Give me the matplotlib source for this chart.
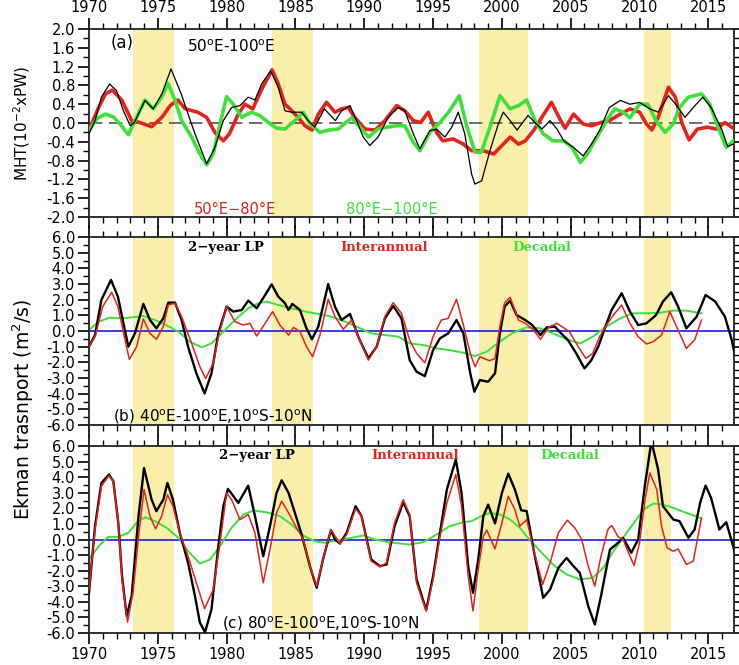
import matplotlib
matplotlib.use("Agg")
import matplotlib.pyplot as plt
from matplotlib.ticker import MultipleLocator

# ---- panel (a): MHT ----
a_blk_x = [1970.0, 1970.44, 1970.9, 1971.5, 1972.0, 1972.5, 1973.0, 1973.3, 1974.07, 1974.67, 1975.3, 1975.96,
           1976.7, 1977.2, 1977.7, 1978.55, 1979.15, 1979.76, 1980.36, 1980.97, 1981.57, 1982.06, 1982.54, 1983.2,
           1983.75, 1984.24, 1984.72, 1985.45, 1985.93, 1986.4, 1987.1, 1987.9, 1988.35, 1988.96, 1989.44, 1989.93,
           1990.4, 1991.0, 1991.74, 1992.47, 1992.95, 1993.56, 1994.04, 1994.77, 1995.25, 1995.86, 1996.35, 1996.83,
           1997.3, 1997.8, 1998.04, 1998.53, 1999.13, 1999.74, 2000.1, 2000.6, 2001.1, 2001.9, 2002.4, 2002.9,
           2003.5, 2004.0, 2004.5, 2005.2, 2005.9, 2006.5, 2007.1, 2007.8, 2008.6, 2009.3, 2010.0, 2010.75, 2011.35,
           2012.1, 2012.7, 2013.3, 2013.9, 2014.6, 2015.2, 2016.0, 2016.4, 2016.8]
a_blk_y = [-0.23, 0.05, 0.55, 0.83, 0.69, 0.26, -0.06, 0.01, 0.48, 0.30, 0.62, 1.15,
           0.62, 0.19, -0.23, -0.87, -0.52, 0.05, 0.33, 0.37, 0.55, 0.49, 0.83, 1.11,
           0.76, 0.26, 0.23, 0.23, 0.05, -0.09, 0.30, 0.05, 0.26, 0.37, 0.05, -0.30,
           -0.48, -0.30, 0.12, 0.33, 0.26, -0.23, -0.55, -0.16, -0.13, -0.30, -0.09, 0.23,
           -0.23, -1.09, -1.30, -1.23, -0.59, -0.02, 0.23, 0.05, -0.15, 0.16, 0.01, -0.13,
           0.05, -0.13, -0.38, -0.52, -0.70, -0.45, -0.16, 0.33, 0.48, 0.40, 0.44, 0.30, 0.23,
           0.58, 0.37, 0.12, 0.33, 0.55, 0.33, -0.16, -0.50, -0.45]

a_red_x = [1970.0, 1970.7, 1971.2, 1971.7, 1972.4, 1973.1, 1973.7, 1974.55, 1975.3, 1975.9, 1976.45, 1977.0,
           1977.9, 1978.55, 1979.15, 1979.76, 1980.2, 1980.85, 1981.33, 1981.9, 1982.5, 1983.3, 1983.75, 1984.24,
           1984.6, 1985.2, 1985.7, 1986.2, 1986.66, 1987.26, 1987.87, 1988.35, 1988.84, 1989.3, 1990.05, 1990.8,
           1991.5, 1992.35, 1992.95, 1993.56, 1994.1, 1994.65, 1995.25, 1995.7, 1996.46, 1997.2, 1997.8, 1998.65,
           1999.4, 2000.0, 2000.6, 2001.2, 2001.7, 2002.3, 2002.9, 2003.6, 2004.2, 2004.6, 2005.2, 2005.9, 2006.5,
           2007.2, 2007.8, 2008.6, 2009.3, 2010.0, 2010.5, 2010.9, 2011.35, 2012.1, 2012.6, 2013.1, 2013.6, 2014.2,
           2014.9, 2015.6, 2016.2, 2016.8]
a_red_y = [-0.16, 0.33, 0.62, 0.70, 0.48, 0.05, 0.01, -0.08, 0.12, 0.37, 0.49, 0.30,
           0.23, 0.12, -0.20, -0.38, -0.23, 0.19, 0.40, 0.30, 0.69, 1.13, 0.83, 0.40,
           0.30, 0.12, -0.06, -0.15, 0.19, 0.44, 0.23, 0.30, 0.33, 0.12, -0.13, -0.15,
           0.05, 0.37, 0.26, 0.05, 0.01, 0.23, -0.20, -0.38, -0.34, -0.45, -0.59, -0.59,
           -0.66, -0.48, -0.30, -0.45, -0.38, -0.16, 0.12, 0.44, 0.09, -0.11, 0.19, -0.02, -0.06,
           0.01, 0.05, 0.19, 0.30, 0.23, -0.02, -0.15, 0.12, 0.76, 0.55, -0.02, -0.36, -0.13,
           -0.09, -0.13, 0.01, -0.11]

a_grn_x = [1970.0, 1970.56, 1971.2, 1971.77, 1972.37, 1972.86, 1973.34, 1974.07, 1974.67, 1975.28, 1975.76,
           1976.25, 1976.73, 1977.46, 1978.06, 1978.55, 1979.03, 1979.52, 1980.0, 1980.48, 1981.1, 1981.8, 1982.4,
           1983.03, 1983.63, 1984.24, 1984.96, 1985.57, 1986.05, 1986.78, 1987.4, 1988.1, 1989.08, 1989.7, 1990.3,
           1991.0, 1991.6, 1992.35, 1992.95, 1993.56, 1994.04, 1994.77, 1995.5, 1996.2, 1996.9, 1997.44, 1998.04,
           1998.5, 1999.13, 1999.86, 2000.6, 2001.2, 2001.8, 2002.4, 2003.0, 2003.7, 2004.5, 2005.1, 2005.7, 2006.2,
           2006.9, 2007.6, 2008.2, 2008.8, 2009.3, 2010.0, 2010.6, 2011.2, 2011.85, 2012.45, 2012.9, 2013.55, 2014.5,
           2015.1, 2015.7, 2016.3, 2016.8]
a_grn_y = [-0.16, 0.09, 0.19, 0.13, -0.06, -0.25, 0.05, 0.49, 0.30, 0.55, 0.84,
           0.48, 0.05, -0.30, -0.66, -0.89, -0.66, -0.02, 0.56, 0.40, 0.12, 0.23, 0.16,
           0.01, -0.11, -0.13, 0.05, 0.23, -0.02, -0.20, -0.15, -0.13, 0.11, -0.09, -0.30,
           -0.13, -0.09, -0.06, -0.06, -0.41, -0.59, -0.20, 0.01, 0.26, 0.58, -0.06, -0.62,
           -0.62, -0.09, 0.58, 0.30, 0.37, 0.49, 0.05, -0.23, -0.38, -0.38, -0.52, -0.84, -0.66,
           -0.30, 0.05, 0.30, 0.23, 0.11, 0.40, 0.40, 0.05, -0.20, -0.02, 0.33, 0.55, 0.62,
           0.40, -0.09, -0.52, -0.38]

# ---- panel (b): 40E-100E ----
b_blk_x = [1970.0, 1970.44, 1970.9, 1971.6, 1972.1, 1972.86, 1973.34, 1973.95, 1974.43, 1974.9, 1975.4, 1975.76,
           1976.25, 1976.73, 1977.2, 1977.8, 1978.4, 1978.9, 1979.4, 1980.0, 1980.48, 1981.1, 1981.57, 1982.18,
           1982.8, 1983.27, 1983.75, 1984.24, 1984.5, 1984.77, 1985.33, 1985.8, 1986.2, 1986.66, 1987.38, 1987.87,
           1988.35, 1988.96, 1989.56, 1990.3, 1990.9, 1991.5, 1992.1, 1992.7, 1993.3, 1993.8, 1994.4, 1995.0,
           1995.5, 1996.1, 1996.7, 1997.2, 1997.7, 1998.0, 1998.4, 1999.0, 1999.5, 1999.85, 2000.2, 2000.6, 2001.06,
           2001.7, 2002.2, 2002.8, 2003.25, 2003.85, 2004.3, 2004.8, 2005.4, 2006.0, 2006.5, 2007.0, 2007.5, 2007.97,
           2008.7, 2009.3, 2009.9, 2010.5, 2011.2, 2011.7, 2012.3, 2012.8, 2013.4, 2014.15, 2014.8, 2015.5, 2016.2,
           2016.7, 2017.0]
b_blk_y = [-1.0, -0.26, 1.98, 3.26, 2.2, -1.0, -0.15, 1.73, 0.70, 0.17, 0.81, 1.81,
           1.81, 0.70, -1.0, -2.7, -3.99, -2.7, -0.15, 1.56, 1.24, 1.34, 1.94, 1.45,
           2.30, 2.98, 2.20, 1.77, 1.34, 1.73, 1.34, 0.17, -0.53, 0.28, 3.0, 1.56,
           0.70, 1.09, -0.36, -1.75, -1.0, 0.81, 1.6, 0.81, -1.86, -2.6, -2.88, -1.22,
           -0.47, -0.15, 0.70, -0.15, -2.7, -3.88, -3.13, -3.24, -2.7, -0.15, 1.56, 1.94, 1.02,
           0.70, 0.38, -0.26, 0.23, 0.28, -0.15, -0.58, -1.43, -2.39, -1.86, -1.0, 0.23, 1.34,
           2.41, 1.24, 0.38, 0.49, 1.02, 1.88, 2.47, 1.56, 0.17, 0.92, 2.30, 1.88, 0.92,
           -0.58, -1.86]

b_red_x = [1970.0, 1970.44, 1971.0, 1971.65, 1972.1, 1972.93, 1973.46, 1973.95, 1974.43, 1974.9, 1975.4, 1975.76,
           1976.25, 1976.73, 1977.46, 1978.06, 1978.47, 1979.03, 1979.4, 1980.0, 1980.6, 1981.2, 1981.7, 1982.18,
           1982.8, 1983.34, 1983.87, 1984.5, 1984.85, 1985.33, 1985.8, 1986.25, 1986.78, 1987.38, 1987.87, 1988.47,
           1989.08, 1989.56, 1990.3, 1990.9, 1991.5, 1992.1, 1992.7, 1993.3, 1993.8, 1994.4, 1995.0, 1995.6, 1996.1,
           1996.7, 1997.2, 1997.7, 1998.05, 1998.4, 1999.1, 1999.5, 1999.85, 2000.2, 2000.6, 2001.2, 2001.7, 2002.3,
           2002.8, 2003.4, 2004.0, 2004.45, 2004.9, 2005.55, 2006.1, 2006.6, 2007.1, 2007.6, 2008.1, 2008.7, 2009.3,
           2009.9, 2010.5, 2011.0, 2011.6, 2012.2, 2012.8, 2013.4, 2014.0, 2014.5]
b_red_y = [-1.0, -0.36, 1.56, 2.47, 1.56, -1.81, -1.0, 0.77, -0.15, -0.53, 0.28, 1.66,
           1.77, 0.92, -0.79, -2.28, -3.03, -2.07, -0.36, 1.56, 0.60, 0.38, 0.49, -0.32,
           0.49, 1.24, 0.38, -0.26, 0.23, -0.04, -1.0, -1.64, -0.26, 2.03, 0.92, 0.11,
           0.70, -0.36, -1.86, -1.0, 0.92, 1.81, 1.13, -0.58, -1.43, -2.03, -0.36, 0.70, 0.81,
           2.03, 0.38, -1.43, -2.28, -1.64, -1.9, -1.75, 0.28, 1.81, 2.15, 0.70, 0.49, 0.06,
           -0.53, 0.23, 0.49, 0.23, -0.04, -1.0, -1.75, -1.43, -0.36, 0.38, 1.02, 1.66, 0.49,
           -0.36, -0.83, -0.68, -0.26, 1.24, 0.06, -1.11, -0.58, 0.70]

b_grn_x = [1970.0, 1970.7, 1971.5, 1972.4, 1973.1, 1973.95, 1974.8, 1975.6, 1976.5, 1977.3, 1978.2, 1978.9,
           1979.76, 1980.6, 1981.57, 1982.3, 1982.9, 1983.75, 1984.7, 1985.7, 1986.66, 1987.6, 1988.6, 1989.56,
           1990.5, 1991.5, 1992.47, 1993.3, 1994.3, 1995.25, 1996.2, 1997.2, 1998.05, 1998.9, 1999.85, 2000.8,
           2001.8, 2002.8, 2003.7, 2004.7, 2005.7, 2006.6, 2007.6, 2008.6, 2009.5, 2010.5, 2011.5, 2012.4, 2013.4,
           2014.5]
b_grn_y = [0.06, 0.60, 0.85, 0.81, 0.87, 0.96, 0.70, 0.38, -0.04, -0.68, -1.04, -0.79,
           -0.04, 0.70, 1.45, 1.77, 1.88, 1.66, 1.45, 1.24, 1.09, 0.92, 0.60, 0.23,
           -0.15, -0.26, -0.36, -0.79, -0.90, -1.11, -1.22, -1.39, -1.6, -1.32, -0.68, -0.11,
           0.23, 0.17, -0.15, -0.53, -0.79, -0.36, 0.28, 0.81, 1.13, 1.13, 1.17, 1.30, 1.30,
           1.13]

# ---- panel (c): 80E-100E ----
c_blk_x = [1970.0, 1970.44, 1970.9, 1971.45, 1971.77, 1972.13, 1972.4, 1972.74, 1973.1, 1973.6, 1974.0, 1974.55,
           1974.9, 1975.4, 1975.7, 1976.1, 1976.6, 1977.2, 1977.7, 1978.06, 1978.43, 1978.9, 1979.4, 1979.76,
           1980.1, 1980.85, 1981.57, 1982.06, 1982.66, 1983.15, 1983.63, 1984.0, 1984.5, 1984.96, 1985.45, 1986.05,
           1986.54, 1987.0, 1987.58, 1987.87, 1988.23, 1988.72, 1989.37, 1989.8, 1990.5, 1991.14, 1991.62, 1992.2,
           1992.83, 1993.3, 1993.8, 1994.5, 1995.0, 1995.5, 1996.0, 1996.65, 1997.07, 1997.55, 1997.9, 1998.28,
           1998.65, 1999.0, 1999.5, 2000.0, 2000.46, 2000.94, 2001.4, 2001.8, 2002.3, 2003.0, 2003.5, 2004.1,
           2004.7, 2005.2, 2005.66, 2006.27, 2006.75, 2007.2, 2007.85, 2008.3, 2008.8, 2009.4, 2009.9, 2010.38,
           2010.86, 2011.35, 2011.7, 2012.45, 2012.9, 2013.55, 2014.0, 2014.4, 2014.8, 2015.2, 2015.8, 2016.3,
           2016.8, 2017.0]
c_blk_y = [-3.42, 0.85, 3.63, 4.17, 3.74, 1.07, -2.35, -4.91, -3.63, 1.50, 4.59, 2.56,
           1.82, 2.56, 3.63, 2.56, 0.43, -1.50, -3.63, -5.34, -5.94, -4.49, -0.43, 2.14,
           3.25, 2.35, 3.46, 1.50, -1.07, 0.85, 2.99, 3.80, 2.99, 1.71, 0.32, -1.71,
           -3.10, -1.28, 0.60, 0.0, -0.26, 0.43, 2.14, 1.50, -1.28, -1.71, -1.60, 0.85,
           2.39, 1.50, -2.56, -4.53, -2.35, 0.43, 3.21, 5.13, 2.99, -1.71, -3.42, -1.28,
           1.50, 2.24, 1.03, 2.99, 4.23, 3.21, 1.88, 1.82, -0.64, -3.74, -3.21, -1.82,
           -1.18, -1.71, -2.14, -4.27, -5.45, -3.63, -0.64, -0.32, 0.11, -0.85, 0.0, 3.42,
           6.3, 4.49, 2.14, 1.28, 1.18, 0.11, 0.64, 2.35, 3.46, 2.67, 0.64, 1.11,
           -0.43, -1.07]

c_red_x = [1970.0, 1970.44, 1970.9, 1971.45, 1971.77, 1972.13, 1972.4, 1972.8, 1973.2, 1973.63, 1974.0, 1974.43,
           1974.84, 1975.28, 1975.7, 1976.1, 1976.6, 1977.2, 1977.8, 1978.4, 1979.03, 1979.52, 1980.0, 1980.36,
           1980.97, 1981.57, 1982.06, 1982.66, 1983.15, 1983.63, 1984.0, 1984.5, 1985.08, 1985.57, 1986.05, 1986.54,
           1987.0, 1987.58, 1988.23, 1988.72, 1989.37, 1989.8, 1990.5, 1991.14, 1991.62, 1992.2, 1992.83, 1993.3,
           1993.8, 1994.5, 1995.0, 1995.5, 1996.0, 1996.65, 1997.07, 1997.55, 1997.9, 1998.28, 1998.65, 1998.9,
           1999.5, 2000.0, 2000.46, 2000.94, 2001.3, 2001.8, 2002.3, 2002.96, 2003.5, 2004.1, 2004.75, 2005.3,
           2005.8, 2006.27, 2006.75, 2007.2, 2007.7, 2007.97, 2008.45, 2008.8, 2009.2, 2009.6, 2010.0, 2010.4,
           2010.75, 2011.25, 2011.6, 2012.0, 2012.45, 2012.8, 2013.4, 2013.9, 2014.5]
c_red_y = [-3.2, 0.64, 3.42, 4.10, 3.74, 1.07, -2.56, -5.3, -3.42, 0.43, 3.21, 1.50,
           0.68, 1.50, 2.88, 2.14, 0.43, -1.07, -2.78, -4.44, -3.21, -0.21, 2.99, 2.56,
           1.28, 1.60, 0.43, -2.78, -0.64, 1.71, 2.46, 1.71, 0.75, 0.0, -1.71, -2.99,
           -1.28, 0.64, -0.26, 0.32, 1.97, 1.50, -1.39, -1.75, -1.50, 1.07, 2.56, 1.60,
           -2.78, -4.59, -2.56, 0.21, 2.35, 4.17, 2.14, -2.35, -4.59, -1.92, 0.21, 0.6,
           -0.6, 1.07, 2.78, 1.92, 0.85, 1.28, -0.64, -2.88, -1.50, 0.43, 1.24, 0.75,
           0.0, -1.71, -2.99, -1.07, 0.64, 0.90, 0.17, 0.0, -0.85, -1.67, -0.21, 2.56,
           4.27, 3.21, 0.85, -0.53, -0.75, -0.60, -1.60, -1.39, 1.39]

c_grn_x = [1970.0, 1970.7, 1971.4, 1972.13, 1972.86, 1973.46, 1974.07, 1974.8, 1975.64, 1976.5, 1977.2, 1978.06,
           1978.8, 1979.52, 1980.36, 1981.2, 1981.94, 1982.9, 1983.87, 1984.72, 1985.57, 1986.4, 1987.14, 1988.1,
           1989.08, 1989.93, 1990.77, 1991.74, 1992.7, 1993.3, 1994.3, 1995.25, 1996.2, 1997.2, 1997.8, 1998.5,
           1999.13, 1999.86, 2000.6, 2001.3, 2002.0, 2002.9, 2003.7, 2004.7, 2005.66, 2006.6, 2007.36, 2008.1,
           2008.8, 2009.5, 2010.3, 2011.0, 2011.7, 2012.45, 2013.4, 2014.4]
c_grn_y = [-1.28, -0.43, 0.17, 0.17, 0.43, 1.07, 1.43, 1.18, 0.75, 0.11, -0.75, -1.54,
           -1.28, -0.43, 0.75, 1.60, 1.86, 1.75, 1.50, 0.96, 0.26, -0.11, -0.21, -0.04,
           0.11, 0.26, 0.0, -0.17, -0.26, -0.32, -0.17, 0.32, 0.85, 1.11, 1.18, 1.50,
           1.71, 1.60, 1.28, 0.75, 0.0, -0.85, -1.60, -2.24, -2.56, -2.46, -1.82, -0.75,
           0.11, 0.96, 1.92, 2.31, 2.24, 2.03, 1.71, 1.39]

bands = [(1973.2, 1976.2), (1983.3, 1986.3), (1998.3, 2001.9), (2010.3, 2012.3)]

XMIN, XMAX = 1970, 2016.86
RED = '#e3231c'
GRN = '#3ee13a'
SHADE = '#f9eeaa'
deg = r'$^{\rm o}$'

fig = plt.figure(figsize=(7.39, 6.65), dpi=100)
ax_a = fig.add_axes([0.1204, 0.6737, 0.8728, 0.2827])
ax_b = fig.add_axes([0.1204, 0.3609, 0.8728, 0.2827])
ax_c = fig.add_axes([0.1204, 0.0481, 0.8728, 0.2812])

for ax in (ax_a, ax_b, ax_c):
    for b0, b1 in bands:
        ax.axvspan(b0, b1, color=SHADE, lw=0, zorder=0)
    ax.set_xlim(XMIN, XMAX)
    ax.xaxis.set_major_locator(MultipleLocator(5))
    ax.xaxis.set_minor_locator(MultipleLocator(1))
    ax.tick_params(axis='both', which='major', direction='out', length=8, width=1.2,
                   labelsize=10.5, top=True, right=True, pad=2)
    ax.tick_params(axis='both', which='minor', direction='out', length=4, width=1,
                   top=True, right=True)
    ax.tick_params(axis='x', labelbottom=False, labeltop=False)
    for s in ax.spines.values():
        s.set_linewidth(1.3)
        s.set_color('#222222')

# panel a
ax_a.axhline(0, color='#555555', lw=1.2, dashes=(8, 4), zorder=1)
ax_a.plot(a_red_x, a_red_y, color=RED, lw=2.6, zorder=3)
ax_a.plot(a_grn_x, a_grn_y, color=GRN, lw=2.6, zorder=4)
ax_a.plot(a_blk_x, a_blk_y, color='black', lw=0.9, zorder=5)
ax_a.set_ylim(-2.0, 2.0)
ax_a.yaxis.set_major_locator(MultipleLocator(0.4))
ax_a.yaxis.set_minor_locator(MultipleLocator(0.2))
ax_a.yaxis.set_major_formatter(matplotlib.ticker.FormatStrFormatter('%.1f'))
ax_a.tick_params(axis='x', labeltop=True)
ax_a.set_ylabel(r'MHT(10$^{-2}$xPW)', fontsize=11, labelpad=10)
ax_a.text(0.052, 0.925, '(a)', transform=ax_a.transAxes, fontsize=12, ha='center', va='center')
ax_a.text(0.221, 0.905, '50' + deg + 'E-100' + deg + 'E', transform=ax_a.transAxes, fontsize=11,
          ha='center', va='center')
ax_a.text(0.226, 0.04, '50°E\u221280°E', transform=ax_a.transAxes, fontsize=10.5,
          ha='center', va='center', color=RED)
ax_a.text(0.470, 0.04, '80°E\u2212100°E', transform=ax_a.transAxes, fontsize=10.5,
          ha='center', va='center', color=GRN)

serif = dict(family='DejaVu Serif', weight='bold', fontsize=9.5)

# panels b and c
for ax, bx, by, rx, ry, gx, gy in ((ax_b, b_blk_x, b_blk_y, b_red_x, b_red_y, b_grn_x, b_grn_y),
                                   (ax_c, c_blk_x, c_blk_y, c_red_x, c_red_y, c_grn_x, c_grn_y)):
    ax.axhline(0, color='#1a1ae0', lw=1.2, zorder=1)
    ax.plot(gx, gy, color=GRN, lw=1.4, zorder=2)
    ax.plot(bx, by, color='black', lw=1.7, zorder=3)
    ax.plot(rx, ry, color=RED, lw=1.1, zorder=4)
    ax.set_ylim(-6.0, 6.0)
    ax.yaxis.set_major_locator(MultipleLocator(1.0))
    ax.yaxis.set_minor_locator(MultipleLocator(0.5))
    ax.yaxis.set_major_formatter(matplotlib.ticker.FormatStrFormatter('%.1f'))

ax_b.text(0.213, 0.945, '2\u2212year LP', transform=ax_b.transAxes, ha='center', va='center', **serif)
ax_b.text(0.457, 0.945, 'Interannual', transform=ax_b.transAxes, ha='center', va='center', color=RED, **serif)
ax_b.text(0.702, 0.945, 'Decadal', transform=ax_b.transAxes, ha='center', va='center', color=GRN, **serif)
ax_b.text(0.191, 0.045, '(b) 40' + deg + 'E-100' + deg + 'E,10' + deg + 'S-10' + deg + 'N',
          transform=ax_b.transAxes, fontsize=11, ha='center', va='center')

ax_c.text(0.261, 0.95, '2\u2212year LP', transform=ax_c.transAxes, ha='center', va='center', **serif)
ax_c.text(0.505, 0.95, 'Interannual', transform=ax_c.transAxes, ha='center', va='center', color=RED, **serif)
ax_c.text(0.745, 0.95, 'Decadal', transform=ax_c.transAxes, ha='center', va='center', color=GRN, **serif)
ax_c.text(0.36, 0.05, '(c) 80' + deg + 'E-100' + deg + 'E,10' + deg + 'S-10' + deg + 'N',
          transform=ax_c.transAxes, fontsize=11, ha='center', va='center')
ax_c.tick_params(axis='x', labelbottom=True)

fig.text(0.032, 0.385, r'Ekman trasnport (m$^2$/s)', rotation=90, fontsize=13.5, ha='center', va='center')

fig.savefig('out.png', dpi=100)
